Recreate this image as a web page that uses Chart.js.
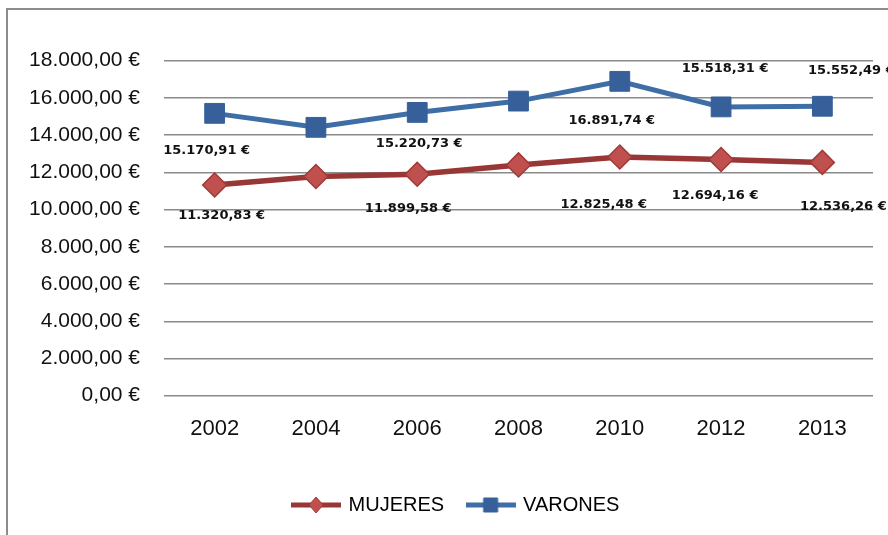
<!DOCTYPE html>
<html>
<head>
<meta charset="utf-8">
<script src="https://cdn.jsdelivr.net/npm/chart.js@4"></script>
<style>
  html, body { margin: 0; padding: 0; background: #fff; }
  #wrap { position: relative; width: 888px; height: 535px; overflow: hidden; background: #fff; }
  #frame { position: absolute; left: 6px; top: 8px; width: 900px; height: 600px;
           border-left: 2px solid #8c8c8c; border-top: 2px solid #8c8c8c; pointer-events: none; }
  canvas { position: absolute; left: 0; top: 0; }
</style>
</head>
<body>
<div id="wrap">
  <canvas id="c" width="888" height="535"></canvas>
  <div id="frame"></div>
</div>
<script>
// ---- data ----
const categories = ['2002', '2004', '2006', '2008', '2010', '2012', '2013'];
const mujeresValues = [11320.83, 11780, 11899.58, 12400, 12825.48, 12694.16, 12536.26];
const varonesValues = [15170.91, 14420, 15220.73, 15830, 16891.74, 15518.31, 15552.49];
const mujeresShowLabel = [true, false, true, false, true, true, true];
const varonesShowLabel = [true, false, true, false, true, true, true];
const seriesNames = ['MUJERES', 'VARONES'];
const yMin = 0, yMax = 18000, yStep = 2000;

function fmtEuro(v) {
  const s = Math.abs(v).toFixed(2);
  let [i, d] = s.split('.');
  i = i.replace(/\B(?=(\d{3})+(?!\d))/g, '.');
  return (v < 0 ? '-' : '') + i + ',' + d + ' €';
}

function legendIcon(lineColor, markerFill, markerBorder, shape) {
  const c = document.createElement('canvas');
  c.width = 50; c.height = 22;
  const g = c.getContext('2d');
  g.strokeStyle = lineColor; g.lineWidth = 5;
  g.beginPath(); g.moveTo(0, 11); g.lineTo(50, 11); g.stroke();
  g.fillStyle = markerFill; g.strokeStyle = markerBorder; g.lineWidth = 1;
  g.beginPath();
  if (shape === 'diamond') {
    g.moveTo(25, 3); g.lineTo(32, 11); g.lineTo(25, 19); g.lineTo(18, 11); g.closePath();
  } else {
    g.rect(18, 4, 14, 14);
  }
  g.fill(); g.stroke();
  return c;
}

const RED_LINE = '#983735', RED_FILL = '#c0504d', RED_BORDER = '#9e3a38';
const BLUE_LINE = '#3f6ea6', BLUE_FILL = '#37609a', BLUE_BORDER = '#37609a';

const iconMujeres = legendIcon(RED_LINE, RED_FILL, RED_BORDER, 'diamond');
const iconVarones = legendIcon(BLUE_LINE, BLUE_FILL, BLUE_BORDER, 'square');

const dataLabelPlugin = {
  id: 'dataLabelPlugin',
  afterDatasetsDraw(chart) {
    const ctx = chart.ctx;
    ctx.save();
    ctx.font = 'bold 13px "DejaVu Sans"';
    ctx.fillStyle = '#111';
    ctx.textAlign = 'center';
    ctx.textBaseline = 'middle';
    chart.data.datasets.forEach((ds, di) => {
      const meta = chart.getDatasetMeta(di);
      meta.data.forEach((pt, i) => {
        if (!ds.showLabel[i]) return;
        const off = ds.labelOffsets[i];
        ctx.fillText(fmtEuro(ds.data[i]), pt.x + off[0], pt.y + off[1]);
      });
    });
    ctx.restore();
  }
};

// shift the legend block so it is centred under the plot like the original
const legendShift = {
  id: 'legendShift',
  afterLayout(chart) {
    if (chart.legend) { chart.legend.left = 40; }
  }
};

new Chart(document.getElementById('c'), {
  type: 'line',
  data: {
    labels: categories,
    datasets: [
      {
        label: seriesNames[0],
        data: mujeresValues,
        showLabel: mujeresShowLabel,
        labelOffsets: [[7, 31], [0, 0], [-9, 34], [0, 0], [-16, 48], [-6, 36], [21, 44]],
        borderColor: RED_LINE,
        backgroundColor: RED_FILL,
        borderWidth: 5.5,
        pointStyle: 'rectRot',
        pointRadius: 12,
        pointBackgroundColor: RED_FILL,
        pointBorderColor: RED_BORDER,
        pointBorderWidth: 1.5,
        tension: 0
      },
      {
        label: seriesNames[1],
        data: varonesValues,
        showLabel: varonesShowLabel,
        labelOffsets: [[-8, 37], [0, 0], [2, 31], [0, 0], [-8, 39], [4, -38], [29, -36]],
        borderColor: BLUE_LINE,
        backgroundColor: BLUE_FILL,
        borderWidth: 5,
        pointStyle: 'rect',
        pointRadius: 14,
        pointBackgroundColor: BLUE_FILL,
        pointBorderColor: BLUE_BORDER,
        pointBorderWidth: 1,
        tension: 0
      }
    ]
  },
  options: {
    responsive: false,
    animation: false,
    devicePixelRatio: 1,
    layout: { padding: { left: 10, right: 15, top: 60.7, bottom: 10 } },
    plugins: {
      tooltip: { enabled: false },
      legend: {
        position: 'bottom',
        labels: {
          usePointStyle: true,
          pointStyleWidth: 45,
          padding: 24,
          color: '#111',
          font: { family: '"Liberation Sans"', size: 20 },
          generateLabels(chart) {
            return chart.data.datasets.map((ds, i) => ({
              text: ds.label,
              pointStyle: i === 0 ? iconMujeres : iconVarones,
              fillStyle: ds.backgroundColor,
              strokeStyle: ds.borderColor,
              lineWidth: 0,
              hidden: false,
              datasetIndex: i
            }));
          }
        }
      }
    },
    scales: {
      x: {
        offset: true,
        grid: { display: false, drawTicks: false, offset: true },
        border: { display: false },
        ticks: { color: '#111', padding: 20, font: { family: '"Liberation Sans"', size: 22 } },
        afterFit(scale) { scale.height = 75.3; }
      },
      y: {
        min: yMin,
        max: yMax,
        border: { display: false },
        grid: { color: '#8a8a8a', lineWidth: 1.5, drawTicks: false },
        ticks: {
          stepSize: yStep,
          color: '#111',
          padding: 24,
          font: { family: '"Liberation Sans"', size: 21 },
          callback: (v) => fmtEuro(v)
        },
        afterFit(scale) { scale.width = 154; }
      }
    }
  },
  plugins: [dataLabelPlugin, legendShift]
});
</script>
</body>
</html>
